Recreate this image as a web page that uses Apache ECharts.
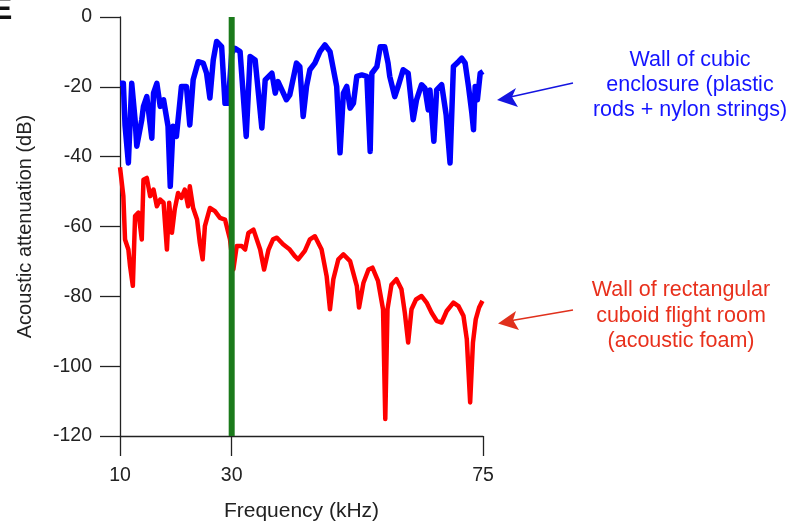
<!DOCTYPE html>
<html>
<head>
<meta charset="utf-8">
<script src="https://cdn.jsdelivr.net/npm/echarts@6/dist/echarts.min.js"></script>
<style>
html,body{margin:0;padding:0;background:#fff;}
#chart{width:793px;height:527px;}
</style>
</head>
<body>
<div id="chart"></div>
<script>
// Frequency (kHz) and attenuation (dB)
const blueFreq = [10.0,10.6,10.9,11.5,12.1,12.7,13.0,13.9,14.2,14.8,15.7,16.0,16.6,17.2,17.8,18.6,19.0,19.5,20.1,21.0,21.9,22.5,23.1,24.0,24.9,25.5,26.1,26.7,27.3,28.2,28.8,29.4,30.0,30.6,31.5,32.6,33.3,34.2,35.4,36.0,37.2,37.8,38.3,39.8,40.4,41.6,42.2,42.8,43.4,44.0,44.9,45.8,46.7,47.6,48.8,49.4,50.0,50.6,51.2,51.8,52.4,53.3,54.2,54.8,55.1,56.0,56.6,57.4,58.0,58.3,59.2,59.8,60.7,61.6,62.5,63.1,64.0,64.6,65.2,65.5,66.2,66.7,67.6,68.4,69.1,69.7,70.6,71.2,71.8,72.4,73.0,73.3,73.6,74.0,74.5,75.0];
const blueDb   = [-19,-19,-31,-41.8,-19,-29.4,-37,-29.4,-25.6,-22.8,-34.7,-21.8,-19,-25.6,-23.7,-31.3,-48.5,-31.3,-34.2,-19.9,-19.9,-30.9,-18,-12.8,-13.2,-16.1,-23.2,-12.3,-7.0,-8.5,-24.7,-24.7,-10.4,-9,-9.9,-34.2,-11.3,-12.3,-31.8,-18,-16.1,-21.8,-18.5,-23.7,-22.3,-13.2,-14.2,-28.5,-19.9,-15.1,-13.2,-9.9,-8,-9.9,-19.9,-38.9,-21.8,-19.9,-26.1,-24.7,-17,-16.6,-17,-38.5,-16.1,-14.2,-8.5,-8.5,-13.2,-17,-22.8,-19.9,-15.1,-16.1,-29.4,-23.7,-19.4,-20.4,-26.6,-20.9,-35.6,-20.9,-19.4,-28,-41.8,-14.2,-12.8,-11.8,-13.2,-19.9,-27.5,-32.3,-19.9,-23.7,-16.1,-15.6];

const redFreq = [10.0,10.6,10.9,11.5,11.8,12.3,12.7,13.3,13.9,14.2,14.8,15.4,16.0,16.6,17.2,17.8,18.4,18.8,19.3,19.8,20.4,21.0,21.6,22.2,22.5,23.1,23.8,24.3,24.8,25.2,26.1,27.0,27.9,28.8,29.7,30.3,30.9,31.8,32.4,33.0,33.9,35.1,35.8,36.6,37.4,38.1,39.2,40.4,41.3,41.9,43.1,44.0,44.9,46.1,47.0,47.6,48.2,49.1,50.0,51.2,52.4,52.8,53.6,54.5,55.2,56.2,57.1,57.5,57.9,58.6,59.5,60.4,61.0,61.6,62.2,63.0,64.0,64.9,65.8,66.7,67.6,68.5,69.7,70.6,71.5,72.1,72.7,73.2,73.7,74.3,74.9];
const redDb   = [-43,-51.3,-63.7,-66.6,-71.3,-77.0,-57,-56,-63.7,-46.6,-46.1,-51.3,-49.4,-54.2,-52.3,-53.2,-66.6,-53.2,-61.8,-55.1,-50.4,-51.8,-49.4,-54.2,-48.5,-54.7,-58,-64.7,-69.4,-59.9,-54.7,-55.6,-57.5,-58,-63.7,-72.3,-65.6,-65.6,-66.6,-61.8,-60.9,-66.6,-72.3,-66.6,-63.7,-63.2,-65.1,-66.6,-68.5,-69.4,-67,-63.7,-62.8,-66.6,-74.2,-83.7,-75.1,-69.4,-68,-69.9,-77,-83.2,-76.1,-72.3,-71.8,-75.6,-83.7,-115.1,-83.7,-76.7,-75.1,-78,-84.7,-93.2,-83.7,-80.9,-79.9,-81.8,-84.7,-87,-87.5,-84.2,-81.8,-82.8,-85.6,-92.3,-110.4,-93.2,-86.6,-83.2,-81.3];

const markerFreq = [30, 30];
const markerDb = [0, -120];

const xTicks = [10, 30, 75];
const yMin = -120, yMax = 0, yStep = 20;

const zip = (a, b) => a.map((v, i) => [v, b[i]]);

const chart = echarts.init(document.getElementById('chart'), null, {renderer: 'canvas'});
const FONT = 'Liberation Sans, Arial, Helvetica, sans-serif';
const axisColor = '#222';

chart.setOption({
  backgroundColor: '#fff',
  animation: false,
  grid: {left: 120, top: 17, right: 310, bottom: 90},
  xAxis: {
    type: 'value', min: 10, max: 75,
    name: 'Frequency (kHz)', nameLocation: 'middle', nameGap: 65,
    nameTextStyle: {fontFamily: FONT, fontSize: 21, color: axisColor},
    axisLine: {show: true, onZero: false, lineStyle: {color: axisColor, width: 1.3}},
    axisTick: {show: true, inside: false, length: 20, customValues: xTicks, lineStyle: {color: axisColor, width: 1.3}},
    axisLabel: {customValues: xTicks, margin: 30, fontFamily: FONT, fontSize: 19.5, color: axisColor},
    splitLine: {show: false}
  },
  yAxis: {
    type: 'value', min: yMin, max: yMax, interval: yStep,
    name: 'Acoustic attenuation (dB)', nameLocation: 'middle', nameGap: 85, nameRotate: 90,
    nameTextStyle: {fontFamily: FONT, fontSize: 20, color: axisColor},
    axisLine: {show: true, onZero: false, lineStyle: {color: axisColor, width: 1.3}},
    axisTick: {show: true, inside: false, length: 20, lineStyle: {color: axisColor, width: 1.3}},
    axisLabel: {margin: 28, fontFamily: FONT, fontSize: 19.5, color: axisColor},
    splitLine: {show: false}
  },
  series: [
    {
      type: 'line', name: 'cubic', data: zip(blueFreq, blueDb), showSymbol: false,
      lineStyle: {color: '#0000ff', width: 5.5, join: 'round'}, z: 2
    },
    {
      type: 'line', name: 'cuboid', data: zip(redFreq, redDb), showSymbol: false,
      lineStyle: {color: '#ff0000', width: 4.5, join: 'round'}, z: 2
    },
    {
      type: 'line', name: '30kHz', data: zip(markerFreq, markerDb), showSymbol: false,
      lineStyle: {color: '#1b7a1b', width: 6}, z: 3
    }
  ],
  graphic: [
    {type: 'text', left: -9, top: -6, style: {text: 'E', font: 'bold 32px ' + FONT, fill: '#111'}},
    {type: 'text', x: 690, y: 85, style: {text: 'Wall of cubic\nenclosure (plastic\nrods + nylon strings)', font: '21.5px ' + FONT, fill: '#1414ff', align: 'center', verticalAlign: 'middle', lineHeight: 25}},
    {type: 'line', shape: {x1: 573, y1: 83, x2: 508, y2: 97.5}, style: {stroke: '#1414e0', lineWidth: 1.5}},
    {type: 'polygon', shape: {points: [[497, 100], [516, 88], [512, 97], [518, 107]]}, style: {fill: '#1414e0'}},
    {type: 'text', x: 681, y: 316, style: {text: 'Wall of rectangular\ncuboid flight room\n(acoustic foam)', font: '21.5px ' + FONT, fill: '#e8301c', align: 'center', verticalAlign: 'middle', lineHeight: 25.5}},
    {type: 'line', shape: {x1: 573, y1: 310, x2: 509, y2: 321}, style: {stroke: '#e0301c', lineWidth: 1.5}},
    {type: 'polygon', shape: {points: [[498, 323.5], [516, 311], [513, 320], [519, 330]]}, style: {fill: '#e0301c'}}
  ]
});
</script>
</body>
</html>
